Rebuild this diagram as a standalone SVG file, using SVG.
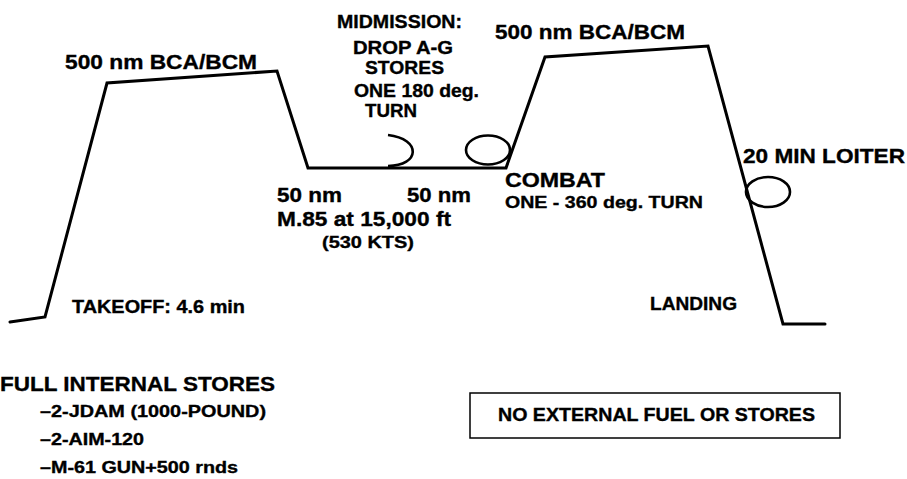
<svg xmlns="http://www.w3.org/2000/svg" width="907" height="479" viewBox="0 0 907 479">
<style>
  text { font-family: "Liberation Sans", Arial, sans-serif; font-weight: bold; fill: #000; stroke: #000; stroke-width: 0.35; }
  .l { font-size: 20px; }
  .m { font-size: 18px; }
  .s { font-size: 16.5px; }
  .prof { fill: none; stroke: #000; stroke-width: 3; stroke-linejoin: miter; stroke-linecap: round; }
  .turn { fill: none; stroke: #000; stroke-width: 2.6; }
</style>
<rect width="907" height="479" fill="#fff"/>
<g id="profile">
  <polyline class="prof" points="10,322 45,317 107,83 277,71 308,168 506,168 545,57 708,46 783,324 825,324"/>
</g>
<g id="turns">
  <path class="turn" d="M388,135 C422,139 420,166 388,166"/>
  <ellipse class="turn" cx="488" cy="150" rx="22" ry="14.5"/>
  <ellipse class="turn" cx="768" cy="192" rx="22" ry="15"/>
</g>
<g id="labels">
  <text class="l" x="65" y="69" textLength="192" lengthAdjust="spacingAndGlyphs">500 nm BCA/BCM</text>
  <text class="l" x="495" y="39" textLength="190" lengthAdjust="spacingAndGlyphs">500 nm BCA/BCM</text>
  <text class="m" x="337" y="28" textLength="125" lengthAdjust="spacingAndGlyphs">MIDMISSION:</text>
  <text class="m" x="353" y="54" textLength="100" lengthAdjust="spacingAndGlyphs">DROP A-G</text>
  <text class="m" x="365" y="74" textLength="79" lengthAdjust="spacingAndGlyphs">STORES</text>
  <text class="m" x="354" y="97" textLength="125" lengthAdjust="spacingAndGlyphs">ONE 180 deg.</text>
  <text class="m" x="365" y="117" textLength="52" lengthAdjust="spacingAndGlyphs">TURN</text>
  <text class="l" x="277" y="202" textLength="65" lengthAdjust="spacingAndGlyphs">50 nm</text>
  <text class="l" x="407" y="202" textLength="64" lengthAdjust="spacingAndGlyphs">50 nm</text>
  <text class="l" x="277" y="226" textLength="174" lengthAdjust="spacingAndGlyphs">M.85 at 15,000 ft</text>
  <text class="s" x="322" y="248" textLength="92" lengthAdjust="spacingAndGlyphs">(530 KTS)</text>
  <text class="l" x="505" y="187" textLength="100" lengthAdjust="spacingAndGlyphs">COMBAT</text>
  <text class="s" x="505" y="208" textLength="198" lengthAdjust="spacingAndGlyphs">ONE - 360 deg. TURN</text>
  <text class="l" x="743" y="163" textLength="162" lengthAdjust="spacingAndGlyphs">20 MIN LOITER</text>
  <text class="m" x="72" y="313" textLength="173" lengthAdjust="spacingAndGlyphs">TAKEOFF: 4.6 min</text>
  <text class="m" x="650" y="310" textLength="87" lengthAdjust="spacingAndGlyphs">LANDING</text>
</g>
<g id="stores">
  <text x="0" y="391" style="font-size:21px" textLength="275" lengthAdjust="spacingAndGlyphs">FULL INTERNAL STORES</text>
  <text class="s" x="40" y="417" textLength="226" lengthAdjust="spacingAndGlyphs">–2-JDAM (1000-POUND)</text>
  <text class="s" x="40" y="445" textLength="104" lengthAdjust="spacingAndGlyphs">–2-AIM-120</text>
  <text class="s" x="40" y="473" textLength="198" lengthAdjust="spacingAndGlyphs">–M-61 GUN+500 rnds</text>
</g>
<g id="fuel-box">
  <rect x="470" y="393" width="370" height="45" fill="none" stroke="#000" stroke-width="1.5"/>
  <text class="m" x="498" y="421" textLength="317" lengthAdjust="spacingAndGlyphs">NO EXTERNAL FUEL OR STORES</text>
</g>
</svg>
